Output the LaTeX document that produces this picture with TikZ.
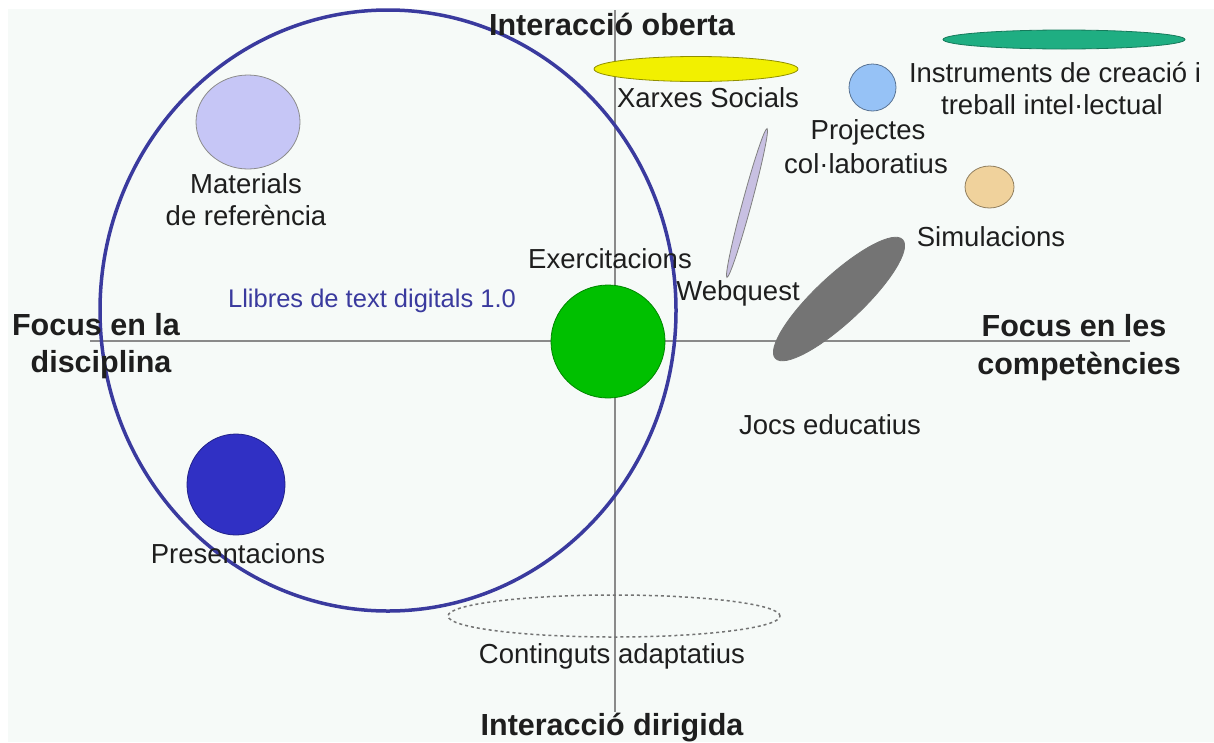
\documentclass[tikz,border=0pt]{standalone}
\usepackage{fontspec}
\setmainfont{Liberation Sans}
\usetikzlibrary{shapes.geometric}
\definecolor{bgc}{HTML}{F6FAF8}
\definecolor{axisc}{HTML}{8A8A8A}
\definecolor{navy}{HTML}{3A3A9E}
\definecolor{lav}{HTML}{C6C6F6}
\definecolor{grn}{HTML}{00C000}
\definecolor{dblue}{HTML}{3030C4}
\definecolor{yel}{HTML}{F2F000}
\definecolor{lblue}{HTML}{96C2F6}
\definecolor{teal}{HTML}{1FAE82}
\definecolor{tan}{HTML}{F0D29C}
\definecolor{wlav}{HTML}{C8C0E2}
\definecolor{dgray}{HTML}{747474}
\definecolor{txt}{HTML}{1E1E1E}
\tikzset{
  blob/.style={ellipse, inner sep=0pt, draw=black!45, line width=0.8pt},
  lbl/.style={anchor=base, inner sep=0pt, text=txt, font=\fontsize{27.5}{32}\selectfont},
  blbl/.style={anchor=base, inner sep=0pt, text=txt, font=\fontsize{30.5}{36}\selectfont\bfseries},
  axisline/.style={draw=axisc, line width=1.2pt}
}
\begin{document}
\begin{tikzpicture}[x=1pt, y=-1pt]
\useasboundingbox (0,0) rectangle (1214,742);
\fill[white] (0,0) rectangle (1214,742);
\fill[bgc] (8,9) rectangle (1214,742);
% axes
\coordinate (axL) at (90,341);
\coordinate (axR) at (1130,341);
\coordinate (axT) at (615,10);
\coordinate (axB) at (615,712);
\draw[axisline] (axL) -- (axR);
\draw[axisline] (axT) -- (axB);
% shapes
\node[blob, fill=lav, minimum width=104pt, minimum height=94pt] (mat) at (248,122) {};
\node[blob, fill=dblue, draw=dblue!70!black, minimum width=98pt, minimum height=101pt] (pres) at (236,484.5) {};
\node[blob, fill=yel, draw=yel!60!black, minimum width=204pt, minimum height=25pt] (xarx) at (696,69) {};
\node[blob, fill=teal, draw=teal!70!black, minimum width=242pt, minimum height=19pt] (instr) at (1064,39.5) {};
\node[blob, fill=lblue, draw=lblue!60!black, minimum width=47pt, minimum height=47pt] (proj) at (872.5,87.5) {};
\node[blob, fill=tan, draw=tan!60!black, minimum width=49pt, minimum height=42pt] (sim) at (989.5,187) {};
\node[blob, fill=wlav, draw=black!50, minimum width=154pt, minimum height=9pt, rotate=74.9] (web) at (747,203) {};
\node[blob, fill=dgray, draw=dgray, minimum width=174pt, minimum height=47pt, rotate=43] (jocs) at (839,299) {};
\node[blob, fill=grn, draw=grn!70!black, minimum width=114pt, minimum height=113pt] (exer) at (608,341.5) {};
\node[ellipse, inner sep=0pt, draw=black!55, line width=1.5pt, dash pattern=on 3pt off 3pt, minimum width=332pt, minimum height=42pt] (cont) at (614,616) {};
\node[ellipse, inner sep=0pt, draw=navy, line width=3.5pt, minimum width=576pt, minimum height=601pt] (llib) at (388,310.5) {};
% labels
\node[blbl] (tio) at (612,35) {Interacció oberta};
\node[blbl] (tid) at (612,735) {Interacció dirigida};
\node[blbl] (tfd1) at (96,335) {Focus en la};
\node[blbl] (tfd2) at (101,372) {disciplina};
\node[blbl] (tfc1) at (1074,336) {Focus en les};
\node[blbl] (tfc2) at (1079,374) {competències};
\node[lbl] (txarx) at (708,107) {Xarxes Socials};
\node[lbl] (tinstr1) at (1055,82) {Instruments de creació i};
\node[lbl] (tinstr2) at (1052,114) {treball intel·lectual};
\node[lbl] (tproj1) at (868,139) {Projectes};
\node[lbl] (tproj2) at (866,173) {col·laboratius};
\node[lbl] (tmat1) at (246,193) {Materials};
\node[lbl] (tmat2) at (246,225) {de referència};
\node[lbl] (tsim) at (991,246) {Simulacions};
\node[lbl] (texer) at (610,268) {Exercitacions};
\node[lbl] (tweb) at (738,300) {Webquest};
\node[lbl, text=navy, font=\fontsize{25.5}{30}\selectfont] (tllib) at (372,307) {Llibres de text digitals 1.0};
\node[lbl] (tjocs) at (830,434) {Jocs educatius};
\node[lbl] (tpres) at (238,563) {Presentacions};
\node[lbl] (tcont) at (612,663) {Continguts adaptatius};
\end{tikzpicture}
\end{document}
